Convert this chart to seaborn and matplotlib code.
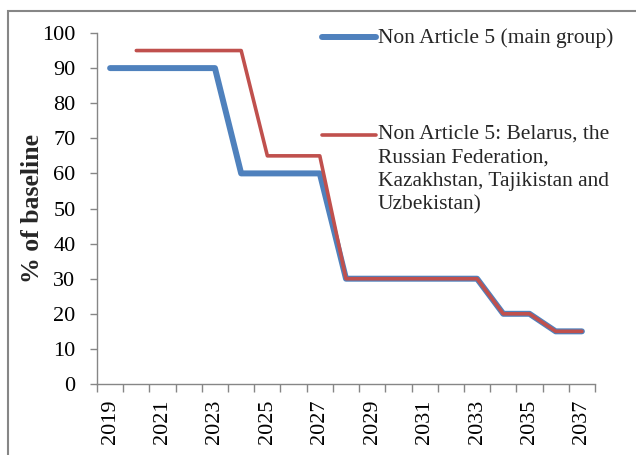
import numpy as np
import pandas as pd
import matplotlib
matplotlib.use("Agg")
import matplotlib.pyplot as plt
import seaborn as sns
from matplotlib.lines import Line2D
from matplotlib.patches import Rectangle

YEARS = list(range(2019, 2038))
MAIN_GROUP = [90, 90, 90, 90, 90, 60, 60, 60, 60, 30, 30, 30, 30, 30, 30, 20, 20, 15, 15]
BELARUS_ETC = [np.nan, 95, 95, 95, 95, 95, 65, 65, 65, 30, 30, 30, 30, 30, 30, 20, 20, 15, 15]

LABEL_MAIN = "Non Article 5 (main group)"
LABEL_OTHER = ("Non Article 5: Belarus, the\nRussian Federation,\n"
               "Kazakhstan, Tajikistan and\nUzbekistan)")

BLUE = "#4F81BD"
RED = "#C0504D"
GRID_GREY = "#868686"

sns.set_theme(style="white")
plt.rcParams["font.family"] = ["Liberation Serif", "DejaVu Serif"]

df = pd.DataFrame({"year": YEARS, "main": MAIN_GROUP, "other": BELARUS_ETC})
df["pos"] = np.arange(len(YEARS))

fig = plt.figure(figsize=(6.36, 4.55), dpi=100)
ax = fig.add_axes([97 / 636, 1 - 384 / 455, (595 - 97) / 636, (384 - 33) / 455])

sns.lineplot(data=df, x="pos", y="main", color=BLUE, linewidth=4.3, ax=ax,
             legend=False, solid_capstyle="round", solid_joinstyle="round")
sns.lineplot(data=df.dropna(), x="pos", y="other", color=RED, linewidth=2.6, ax=ax,
             legend=False, solid_capstyle="round", solid_joinstyle="round")

ax.set_xlim(-0.5, len(YEARS) - 0.5)
ax.set_ylim(0, 100)
ax.set_yticks(range(0, 101, 10))
ax.tick_params(axis="y", labelsize=16, length=5, width=1, color=GRID_GREY,
               direction="out", left=True, pad=10.5, labelcolor="black")

# category boundaries carry the tick marks, labels sit on every other category
ax.set_xticks(np.arange(-0.5, len(YEARS), 1.0))
ax.set_xticklabels([])
ax.set_xticks(df["pos"][::2], minor=True)
ax.set_xticklabels([str(y) for y in YEARS[::2]], minor=True, rotation=90)
ax.tick_params(axis="x", which="major", length=5.5, width=1, color=GRID_GREY,
               direction="out", bottom=True)
ax.tick_params(axis="x", which="minor", length=0, labelsize=16, pad=11,
               labelcolor="black")

for side in ["top", "right"]:
    ax.spines[side].set_visible(False)
for side in ["left", "bottom"]:
    ax.spines[side].set_color(GRID_GREY)
    ax.spines[side].set_linewidth(1)

ax.set_xlabel("")
ax.set_ylabel("% of baseline", fontsize=18.5, fontweight="bold", labelpad=-1.5)

# legend drawn in figure space
fig.add_artist(Line2D([322 / 636, 376 / 636], [1 - 37 / 455] * 2, color=BLUE,
                      linewidth=4.3, solid_capstyle="round"))
fig.text(378 / 636, 1 - 38 / 455, LABEL_MAIN, fontsize=15.5, va="center", ha="left")
fig.add_artist(Line2D([322 / 636, 376 / 636], [1 - 135 / 455] * 2, color=RED,
                      linewidth=2.6, solid_capstyle="round"))
fig.text(378 / 636, 1 - 125 / 455, LABEL_OTHER, fontsize=15.5, va="top", ha="left",
         linespacing=1.32)

fig.add_artist(Rectangle((8 / 636, -0.1), 2, 0.1 + 444 / 455, transform=fig.transFigure,
                         fill=False, edgecolor=GRID_GREY, linewidth=1.5))

fig.savefig("out.png", dpi=100)
